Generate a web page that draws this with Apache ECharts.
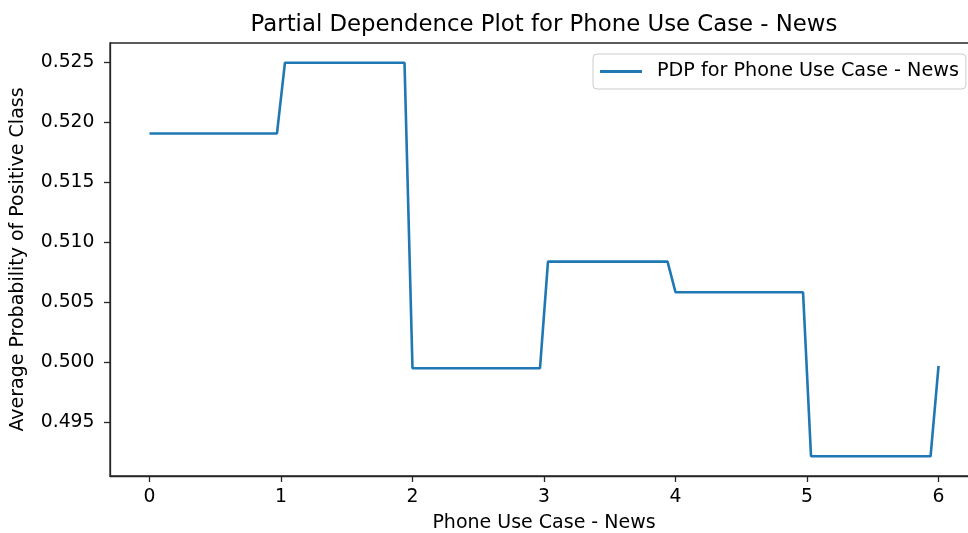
<!DOCTYPE html>
<html>
<head>
<meta charset="utf-8">
<script src="https://cdn.jsdelivr.net/npm/echarts@6/dist/echarts.min.js"></script>
<style>
  html, body { margin: 0; padding: 0; background: #fff; overflow: hidden; }
  #chart { width: 968px; height: 533px; }
</style>
</head>
<body>
<div id="chart"></div>
<script>
// Partial dependence of the positive-class probability on "Phone Use Case - News".
// Grid points where the curve changes level (evaluation grid spans 0..6).
const gridX = [0, 0.9697, 1.0303, 1.9394, 2.0, 2.9697, 3.0303, 3.9394, 4.0, 4.9697, 5.0303, 5.9394, 6.0];
const avgProb = [0.51905, 0.51905, 0.52494, 0.52494, 0.4995, 0.4995, 0.50838, 0.50838, 0.50583, 0.50583, 0.49217, 0.49217, 0.49969];

const xTicks = [0, 1, 2, 3, 4, 5, 6];
const yTicks = [0.495, 0.500, 0.505, 0.510, 0.515, 0.520, 0.525];

const FONT = '"DejaVu Sans", sans-serif';
const LINE_COLOR = '#1f77b4';
const AXIS_COLOR = '#262626';

const chart = echarts.init(document.getElementById('chart'), null, { renderer: 'canvas' });

chart.setOption({
  animation: false,
  backgroundColor: '#ffffff',
  title: {
    text: 'Partial Dependence Plot for Phone Use Case - News',
    left: 544,
    top: 14,
    textAlign: 'center',
    padding: 0,
    textStyle: { fontFamily: FONT, fontSize: 22.8, fontWeight: 'normal', color: '#000' }
  },
  legend: {
    left: 593,
    top: 54,
    padding: [8, 7, 8, 7],
    borderColor: '#cccccc',
    borderWidth: 1,
    borderRadius: 4,
    backgroundColor: 'rgba(255,255,255,0.8)',
    itemWidth: 42,
    itemHeight: 3,
    icon: 'rect',
    textStyle: { fontFamily: FONT, fontSize: 19.2, color: '#000', padding: [0, 0, 0, 10] },
    data: ['PDP for Phone Use Case - News']
  },
  // the plot frame's right edge sits just past the canvas edge
  grid: {
    left: 110,
    right: -10,
    top: 43,
    bottom: 57,
    outerBoundsMode: 'none',
    show: true,
    borderColor: AXIS_COLOR,
    borderWidth: 1.3,
    backgroundColor: 'transparent'
  },
  xAxis: {
    type: 'value',
    min: -0.3,
    max: 6.3,
    name: 'Phone Use Case - News',
    nameLocation: 'middle',
    nameGap: 38,
    nameTextStyle: { fontFamily: FONT, fontSize: 19, color: '#000' },
    axisLine: { show: true, onZero: false, lineStyle: { color: AXIS_COLOR, width: 1.3 } },
    axisTick: { show: true, inside: false, length: 6, customValues: xTicks, lineStyle: { color: AXIS_COLOR, width: 1.3 } },
    axisLabel: {
      customValues: xTicks,
      margin: 12,
      fontFamily: FONT,
      fontSize: 18.8,
      color: '#000',
      formatter: v => String(Math.round(v))
    },
    splitLine: { show: false }
  },
  yAxis: {
    type: 'value',
    min: 0.49053,
    max: 0.52658,
    name: 'Average Probability of Positive Class',
    nameLocation: 'middle',
    nameGap: 82,
    nameTextStyle: { fontFamily: FONT, fontSize: 19, color: '#000' },
    axisLine: { show: true, onZero: false, lineStyle: { color: AXIS_COLOR, width: 1.3 } },
    axisTick: { show: true, inside: false, length: 6, customValues: yTicks, lineStyle: { color: AXIS_COLOR, width: 1.3 } },
    axisLabel: {
      customValues: yTicks,
      margin: 15.5,
      fontFamily: FONT,
      fontSize: 18.8,
      color: '#000',
      formatter: v => v.toFixed(3)
    },
    splitLine: { show: false }
  },
  series: [{
    name: 'PDP for Phone Use Case - News',
    type: 'line',
    data: gridX.map((x, i) => [x, avgProb[i]]),
    showSymbol: false,
    symbol: 'none',
    lineStyle: { color: LINE_COLOR, width: 2.6 },
    itemStyle: { color: LINE_COLOR },
    clip: false
  }]
});
</script>
</body>
</html>
